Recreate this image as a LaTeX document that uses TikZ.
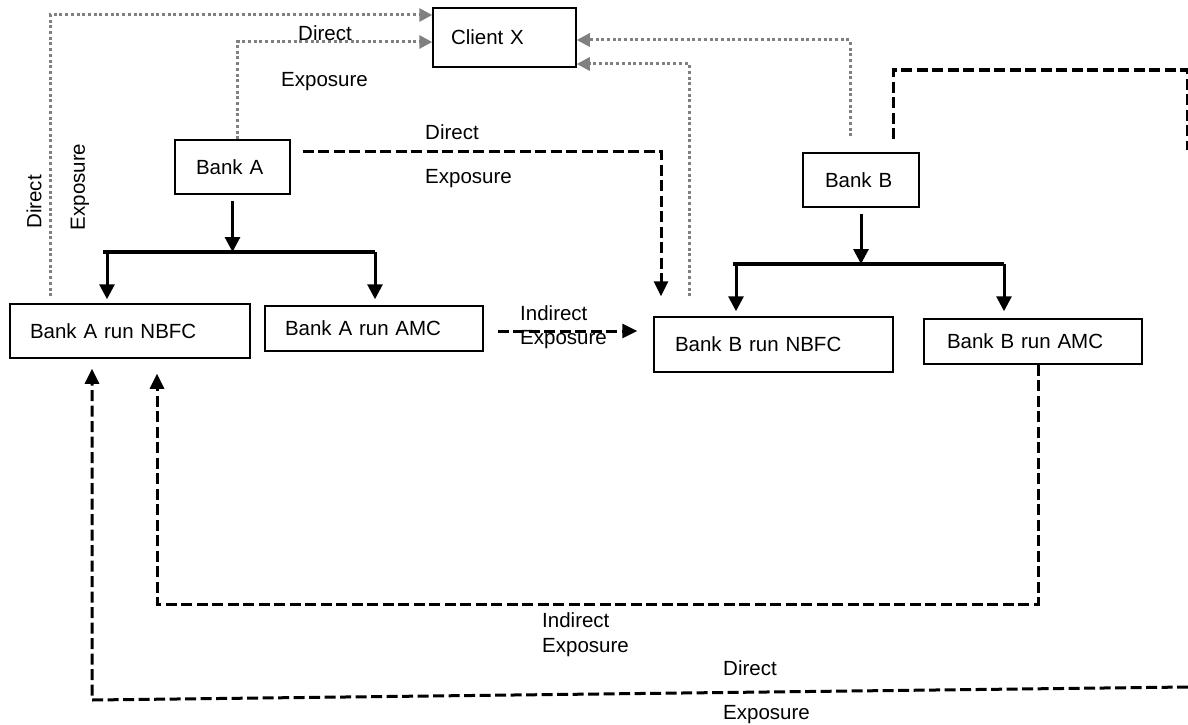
\documentclass[tikz,border=0pt]{standalone}
\usepackage{fontspec}
\setmainfont{Liberation Sans}
\usetikzlibrary{arrows.meta,calc}
\definecolor{dotgray}{RGB}{128,128,128}
\begin{document}
\begin{tikzpicture}[x=1pt,y=-1pt,
  txt/.style={font=\fontsize{20.5}{24}\selectfont},
  box/.style={txt,draw,line width=1.5pt,align=left,anchor=center,inner ysep=0pt},
  lbl/.style={txt,inner sep=0pt},
  tree/.style={line width=3pt,-{Triangle[length=15pt,width=15pt]}},
  barline/.style={line width=3.5pt},
  dashy/.style={line width=3pt,dash pattern=on 11pt off 4.5pt},
  dashtip/.style={dashy,-{Triangle[length=15pt,width=14pt]}},
  dotty/.style={draw=dotgray,line width=3pt,dash pattern=on 3pt off 2.7pt,-{Triangle[length=13pt,width=13pt,fill=dotgray]}},
]
\fill[white] (0,0) rectangle (1188,725);
\useasboundingbox (0,0) rectangle (1188,725);

% boxes
\node[box,minimum width=143pt,minimum height=59pt,text width=107pt,inner xsep=18pt] (clientX) at (504.5,37.5) {Client X};
\node[box,minimum width=115pt,minimum height=54pt,text width=73pt,inner xsep=21pt] (bankA) at (232.5,167) {Bank A};
\node[box,minimum width=116pt,minimum height=54pt,text width=72pt,inner xsep=22pt] (bankB) at (861,180) {Bank B};
\node[box,minimum width=240pt,minimum height=54pt,text width=200pt,inner xsep=20pt] (nbfcA) at (130,331) {Bank A run NBFC};
\node[box,minimum width=218pt,minimum height=45pt,text width=178pt,inner xsep=20pt] (amcA) at (374,328.5) {Bank A run AMC};
\node[box,minimum width=239pt,minimum height=55pt,text width=197pt,inner xsep=21pt] (nbfcB) at (773.5,344.5) {Bank B run NBFC};
\node[box,minimum width=218pt,minimum height=45pt,text width=172pt,inner xsep=23pt] (amcB) at (1033,341.5) {Bank B run AMC};

% Bank A tree
\coordinate (jA) at (232,252);
\coordinate (aL) at (103,252);
\coordinate (aL1) at (107,252);
\coordinate (aR) at (375,252);
\draw[tree] ($(bankA.south)+(0,6)$) -- (bankA.south |- jA);
\draw[barline] (aL) -- (aR);
\draw[tree,shorten >=4pt] (aL1) -- (aL1 |- nbfcA.north);
\draw[tree,shorten >=6pt] (aR) -- (aR |- amcA.north);

% Bank B tree
\coordinate (jB) at (860,264);
\coordinate (bL) at (733,264);
\coordinate (bL1) at (736,264);
\coordinate (bR) at (1004,264);
\draw[tree] ($(bankB.south)+(0,6)$) -- (bankB.south |- jB);
\draw[barline] (bL) -- (bR);
\draw[tree,shorten >=5pt] (bL1) -- (bL1 |- nbfcB.north);
\draw[tree,shorten >=7pt] (bR) -- (bR |- amcB.north);

% grey dotted direct exposures to Client X
\coordinate (g1) at (50,15);
\coordinate (g2) at (237,42);
\coordinate (g3) at (850,40);
\coordinate (g4) at (689,64);
\draw[dotty] ($(nbfcA.north -| g1)+(0,-7)$) |- (clientX.west |- g1);
\draw[dotty] (bankA.north -| g2) |- (clientX.west |- g2);
\draw[dotty] ($(bankB.north -| g3)+(0,-16)$) |- (clientX.east |- g3);
\draw[dotty] ($(nbfcB.north -| g4)+(0,-20)$) |- (clientX.east |- g4);

% dashed: Bank A -> Bank B run NBFC
\coordinate (d1) at (661,151);
\draw[dashtip,shorten >=20pt] ($(bankA.east |- d1)+(12,0)$) -| (d1 |- nbfcB.north);

% dashed: Bank A run AMC -> Bank B run NBFC
\coordinate (i1) at (500,331);
\draw[dashtip,shorten >=16pt] ($(amcA.east |- i1)+(14,0)$) -- (nbfcB.west |- i1);

% dashed loop: Bank B run AMC -> Bank A run NBFC
\coordinate (l1) at (1038,604);
\coordinate (l2) at (157,604);
\draw[dashtip,shorten >=15pt] (amcB.south -| l1) -- (l1) -- (l2) -- (l2 |- nbfcA.south);

% dashed: Bank B -> off page -> Bank A run NBFC
\coordinate (o1) at (893,70);
\coordinate (o2) at (1187,70);
\coordinate (o3) at (1187,150);
\coordinate (o4) at (1188,687);
\coordinate (o5) at (92,700);
\draw[dashy] ($(bankB.north -| o1)+(0,-13)$) -- (o1) -- (o2) -- (o3);
\draw[dashtip,shorten >=10pt] (o4) -- (o5) -- (o5 |- nbfcA.south);

% labels
\node[lbl,anchor=west] (t1) at (298,33) {Direct};
\node[lbl,anchor=west] (t2) at (281,82) {Exposure};
\node[lbl,anchor=west] (t3) at (425,132) {Direct};
\node[lbl,anchor=west] (t4) at (425,179) {Exposure};
\node[lbl,rotate=90] (t5) at (34,202) {Direct};
\node[lbl,rotate=90] (t6) at (80,187) {Exposure};
\node[lbl,anchor=west] (t7) at (520,313) {Indirect};
\node[lbl,anchor=west] (t8) at (520,340) {Exposure};
\node[lbl,anchor=west] (t9) at (542,620) {Indirect};
\node[lbl,anchor=west] (t10) at (542,648) {Exposure};
\node[lbl,anchor=west] (t11) at (723,668) {Direct};
\node[lbl,anchor=west] (t12) at (723,715) {Exposure};
\end{tikzpicture}
\end{document}
